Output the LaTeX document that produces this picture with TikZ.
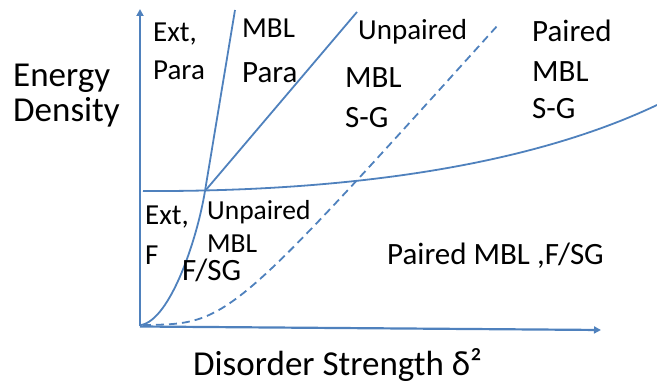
\documentclass[tikz,border=0pt]{standalone}
\usepackage{fontspec}
\setmainfont{Carlito}
\usetikzlibrary{arrows.meta}
\definecolor{lineblue}{RGB}{79,129,189}
\tikzset{
  axisline/.style={draw=lineblue, line width=2.2pt, -{Triangle[length=7pt,width=7pt]}},
  curveline/.style={draw=lineblue, line width=1.8pt},
  dashline/.style={draw=lineblue, line width=1.8pt, dash pattern=on 8pt off 5pt},
  lbl/.style={inner sep=0pt, anchor=base west, text=black},
  fa/.style={lbl, font=\fontsize{29}{35}\selectfont},
  fb/.style={lbl, font=\fontsize{31}{37}\selectfont},
  fc/.style={lbl, font=\fontsize{27.5}{33}\selectfont},
  fd/.style={lbl, font=\fontsize{35}{42}\selectfont},
}
\begin{document}
\begin{tikzpicture}[x=1pt,y=-1pt]
\useasboundingbox (0,0) rectangle (657,385);
% coordinates
\coordinate (O) at (140,326.5);
\coordinate (ytip) at (140,9);
\coordinate (xtip) at (601,330);
\coordinate (X) at (205,191);
\coordinate (s0) at (141,325);
\coordinate (s1) at (235,10);
\coordinate (l1) at (357,12);
\coordinate (d0) at (143,325);
\coordinate (d1) at (498,25);
\coordinate (f0) at (143,191);
\coordinate (f1) at (657,105);
% axes
\draw[axisline] (O) -- (ytip);
\draw[axisline] (O) -- (xtip);
% curves
\draw[curveline] (s0) .. controls (170,320) and (197,240) .. (X) -- (s1);
\draw[curveline] (X) -- (l1);
\draw[dashline] (d0) .. controls (228,324) .. (d1);
\draw[curveline] (f0) .. controls (330,192) and (520,170) .. (f1);
% labels
\node[fd] (en) at (13,87) {Energy};
\node[fd] (de) at (13,122) {Density};
\node[fd] (xl) at (193,375) {Disorder Strength δ²};
\node[fa] (e1) at (153,42) {Ext,};
\node[fa] (e2) at (153,80) {Para};
\node[fa] (m1) at (242,38) {MBL};
\node[fb] (m2) at (242,83) {Para};
\node[fa] (u1) at (358,40) {Unpaired};
\node[fb] (u2) at (345,88) {MBL};
\node[fb] (u3) at (345,128) {S-G};
\node[fb] (p1) at (532,42) {Paired};
\node[fb] (p2) at (532,82) {MBL};
\node[fb] (p3) at (532,119) {S-G};
\node[fa] (g1) at (145,225) {Ext,};
\node[fa] (g2) at (145,265) {F};
\node[fc] (h1) at (207,220) {Unpaired};
\node[fc] (h2) at (207,253) {MBL};
\node[fb] (h3) at (182,280) {F/SG};
\node[fb] (q1) at (387,265) {Paired MBL ,F/SG};
\end{tikzpicture}
\end{document}
